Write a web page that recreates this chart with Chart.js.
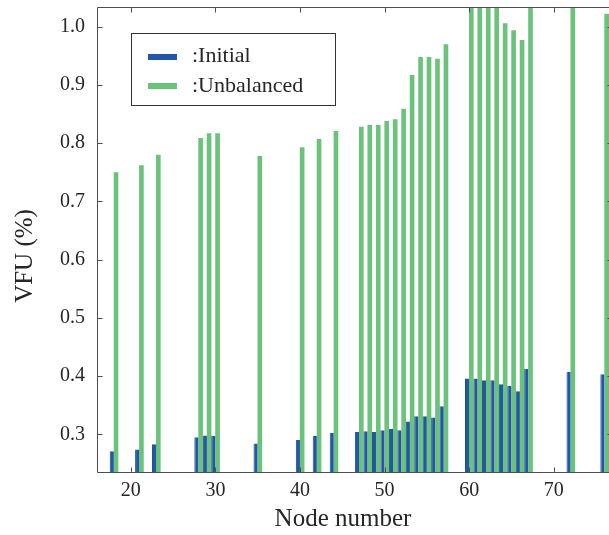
<!DOCTYPE html>
<html><head><meta charset="utf-8">
<style>html,body{margin:0;padding:0;background:#fff;overflow:hidden;width:609px;height:535px}
canvas{display:block}</style>
<script src="https://cdn.jsdelivr.net/npm/chart.js@4.4.1/dist/chart.umd.min.js"></script>
</head><body>
<canvas id="c" width="613" height="535"></canvas>
<script>
const nodes = [18,21,23,28,29,30,35,40,42,44,47,48,49,50,51,52,53,54,55,56,57,60,61,62,63,64,65,66,67,72,76,77];
const initial = [0.271,0.274,0.283,0.295,0.298,0.297,0.284,0.290,0.297,0.302,0.304,0.305,0.304,0.307,0.309,0.307,0.322,0.331,0.331,0.329,0.348,0.396,0.396,0.393,0.393,0.386,0.383,0.374,0.412,0.407,0.403,0.415];
const unbalanced = [0.750,0.762,0.780,0.809,0.817,0.817,0.778,0.793,0.807,0.821,0.828,0.831,0.831,0.838,0.841,0.859,0.917,0.948,0.948,0.945,0.970,1.06,1.06,1.06,1.06,1.006,0.994,0.977,1.06,1.06,1.022,1.06];
const seriesLabels = [':Initial', ':Unbalanced'];
const xTicks = [20,30,40,50,60,70];
const yTicks = [0.3,0.4,0.5,0.6,0.7,0.8,0.9,1.0];
const xTitle = 'Node number';
const yTitle = 'VFU (%)';

const BLUE = '#2157a5', GREEN = '#6bc27b', TXT = '#262626', AX = '#4d4d4d';
const FONT = "'Liberation Serif', 'Times New Roman', serif";

const frame = {
  id: 'frame',
  afterDraw(chart) {
    const {ctx, chartArea: a, scales: {x, y}} = chart;
    ctx.save();
    ctx.strokeStyle = AX; ctx.lineWidth = 1;
    const L = Math.round(a.left) + 0.5, R = Math.round(a.right) - 0.5;
    const T = Math.round(a.top) + 0.5, B = Math.round(a.bottom) - 0.5;
    ctx.beginPath();
    ctx.moveTo(L, T); ctx.lineTo(R, T); ctx.lineTo(R, B); ctx.lineTo(L, B); ctx.closePath();
    x.ticks.forEach(t => {
      const px = Math.round(x.getPixelForValue(t.value)) + 0.5;
      ctx.moveTo(px, B); ctx.lineTo(px, B - 5);
      ctx.moveTo(px, T); ctx.lineTo(px, T + 5);
    });
    y.ticks.forEach(t => {
      const py = Math.round(y.getPixelForValue(t.value)) + 0.5;
      ctx.moveTo(L, py); ctx.lineTo(L + 5, py);
      ctx.moveTo(R, py); ctx.lineTo(R - 5, py);
    });
    ctx.stroke();

    // axis titles
    ctx.fillStyle = TXT;
    ctx.font = '25px ' + FONT;
    ctx.textAlign = 'center'; ctx.textBaseline = 'alphabetic';
    ctx.fillText(xTitle, 343, 526);
    ctx.save();
    ctx.translate(32, 256); ctx.rotate(-Math.PI / 2);
    ctx.fillText(yTitle, 0, 0);
    ctx.restore();

    // legend
    ctx.fillStyle = '#fff';
    ctx.fillRect(131, 33, 204, 72);
    ctx.strokeStyle = '#333'; ctx.lineWidth = 1;
    ctx.strokeRect(131.5, 33.5, 204, 72);
    const ys = [57, 86], bl = [62, 91.5];
    chart.data.datasets.forEach((ds, i) => {
      ctx.strokeStyle = ds.backgroundColor; ctx.lineWidth = 6;
      ctx.beginPath(); ctx.moveTo(148, ys[i]); ctx.lineTo(177, ys[i]); ctx.stroke();
      ctx.fillStyle = TXT; ctx.font = '22px ' + FONT; ctx.textAlign = 'left';
      ctx.fillText(ds.label, 192, bl[i]);
    });
    ctx.restore();
  }
};

new Chart(document.getElementById('c'), {
  type: 'bar',
  data: {
    datasets: [
      {label: seriesLabels[0], data: nodes.map((n, i) => ({x: n, y: initial[i]})), backgroundColor: BLUE, borderColor: '#1b4b94', borderWidth: {left: 1, right: 0, top: 0, bottom: 0}, barPercentage: 0.98, categoryPercentage: 1},
      {label: seriesLabels[1], data: nodes.map((n, i) => ({x: n, y: unbalanced[i]})), backgroundColor: GREEN, borderWidth: 0, barPercentage: 1.1, categoryPercentage: 1}
    ]
  },
  options: {
    responsive: false, animation: false, devicePixelRatio: 1,
    layout: {padding: {top: 7, left: 0, right: 0, bottom: 0}},
    plugins: {legend: {display: false}, tooltip: {enabled: false}},
    scales: {
      x: {
        type: 'linear', min: 16, max: 77, offset: false,
        grid: {display: false, drawTicks: false}, border: {display: false},
        afterBuildTicks: s => { s.ticks = xTicks.map(v => ({value: v})); },
        ticks: {color: TXT, font: {family: FONT, size: 20}, padding: 6, maxRotation: 0, autoSkip: false,
          callback: v => String(v)},
        afterFit: s => { s.height = 62; s.paddingLeft = 0; s.paddingRight = 0; }
      },
      y: {
        min: 0.2335, max: 1.0338, beginAtZero: false,
        grid: {display: false, drawTicks: false}, border: {display: false},
        afterBuildTicks: s => { s.ticks = yTicks.map(v => ({value: v})); },
        ticks: {color: TXT, font: {family: FONT, size: 20}, padding: 12,
          callback: v => Number(v).toFixed(1)},
        afterFit: s => { s.width = 97; s.paddingTop = 0; s.paddingBottom = 0; }
      }
    }
  },
  plugins: [frame]
});
</script>
</body></html>
